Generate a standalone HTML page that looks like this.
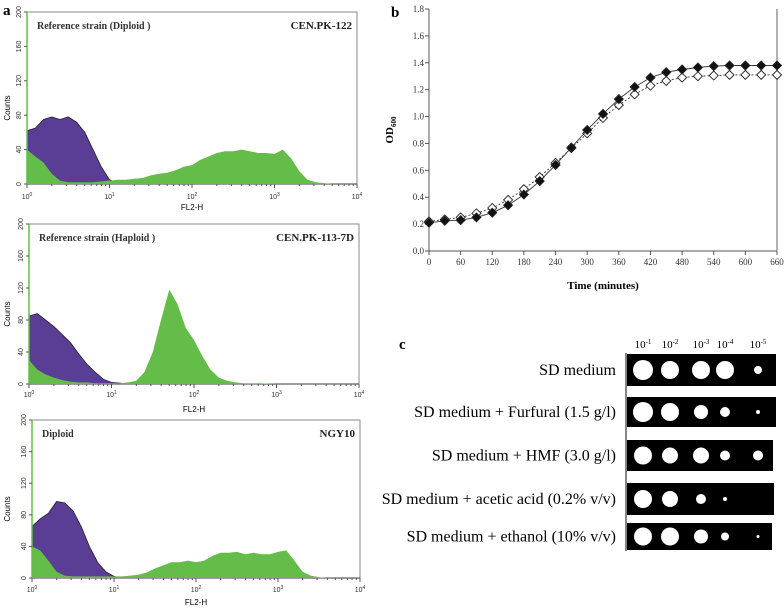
<!DOCTYPE html>
<html><head><meta charset="utf-8"><style>
body{margin:0;background:#fff}
svg{display:block}
text{font-family:"Liberation Serif",serif}
.sans{font-family:"Liberation Sans",sans-serif}
</style></head><body>
<svg id="fig" width="784" height="611" viewBox="0 0 784 611" xmlns="http://www.w3.org/2000/svg"></svg>
<script>
// ---- Panel a data (counts at log10 FL2-H = 0,0.1,...,4.0) ----
const histLogStep = 0.1;
const h1Purple = [62,65,75,78,75,78,72,60,40,20,5,1,0,0,0,0,0,0,0,0,0,0,0,0,0,0,0,0,0,0,0,0,0,0,0,0,0,0,0,0,0];
const h1Green  = [40,32,25,12,4,2,2,2,2,3,4,5,5,6,7,10,12,13,16,20,22,28,32,36,38,38,40,38,36,36,35,40,30,15,5,2,1,0,0,0,0];
const h2Purple = [85,88,80,72,62,52,38,25,15,6,2,1,0,0,0,0,0,0,0,0,0,0,0,0,0,0,0,0,0,0,0,0,0,0,0,0,0,0,0,0,0];
const h2Green  = [30,18,12,8,5,3,2,2,1,1,1,1,2,4,15,40,80,118,100,70,55,35,18,8,4,2,1,1,1,0.5,0,0,0,0,0,0,0,0,0,0,0];
const h3Purple = [65,75,82,97,95,85,65,40,20,8,2,0,0,0,0,0,0,0,0,0,0,0,0,0,0,0,0,0,0,0,0,0,0,0,0,0,0,0,0,0,0];
const h3Green  = [40,35,22,8,3,2,2,2,2,2,2,2,3,4,7,12,16,20,20,22,20,22,28,32,32,33,30,32,30,30,33,35,22,8,3,1,0,0,0,0,0];
const countTicks = [0,40,80,120,160,200];
const decadeTicks = [0,1,2,3,4];
const panelTitlesLeft = ["Reference strain (Diploid )","Reference strain (Haploid )","Diploid"];
const panelTitlesRight = ["CEN.PK-122","CEN.PK-113-7D","NGY10"];
// ---- Panel b data ----
const timePoints = [0,30,60,90,120,150,180,210,240,270,300,330,360,390,420,450,480,510,540,570,600,630,660];
const odFilled = [0.21,0.225,0.23,0.25,0.285,0.34,0.42,0.52,0.64,0.77,0.90,1.02,1.13,1.22,1.29,1.33,1.35,1.365,1.375,1.38,1.38,1.38,1.38];
const odOpen   = [0.22,0.235,0.25,0.28,0.32,0.38,0.46,0.55,0.655,0.765,0.875,0.99,1.085,1.165,1.23,1.265,1.29,1.30,1.305,1.31,1.31,1.31,1.31];
const timeTicks = [0,60,120,180,240,300,360,420,480,540,600,660];
const odTicks = [0,0.2,0.4,0.6,0.8,1.0,1.2,1.4,1.6,1.8];
// ---- Panel c data ----
const conditions = ["SD medium","SD medium + Furfural (1.5 g/l)","SD medium + HMF (3.0 g/l)","SD medium + acetic acid (0.2% v/v)","SD medium + ethanol (10% v/v)"];
const dilutionExp = ["1","2","3","4","5"];
const spotSizes = [[10,9,9,9,4],[10,9,7,5,2],[9,8,8,5,5],[9,8,5,2,0],[9,9,7,4,1.5]];

const NS="http://www.w3.org/2000/svg";
const svg=document.getElementById('fig');
function el(tag,attrs,parent,txt){const e=document.createElementNS(NS,tag);for(const k in attrs)e.setAttribute(k,attrs[k]);if(txt!==undefined)e.textContent=txt;(parent||svg).appendChild(e);return e;}

// ---------- Panel a ----------
const histGeo=[{l:27,r:357,t:12,b:184,tl:197,xl:208},{l:29,r:359,t:224,b:384,tl:395,xl:410},{l:32,r:360,t:420,b:578,tl:590,xl:603}];
const purples=[h1Purple,h2Purple,h3Purple], greens=[h1Green,h2Green,h3Green];
el('text',{x:3,y:15,'font-size':15,'font-weight':'bold'},svg,'a');
histGeo.forEach((g,i)=>{
  const grp=el('g',{});
  
  
  const xs=v=>g.l+(v/4)*(g.r-g.l);
  const ys=c=>g.b-(c/200)*(g.b-g.t);
  el('rect',{x:g.l,y:g.t,width:g.r-g.l,height:g.b-g.t,fill:'none',stroke:'#888','stroke-width':1},grp);
  function area(arr,fill,stroke,name){
    let d='M'+xs(0)+','+g.b;
    arr.forEach((c,k)=>{d+=' L'+xs(k*histLogStep).toFixed(1)+','+ys(c).toFixed(1);});
    d+=' L'+xs(4)+','+g.b+' Z';
    const p=el('path',{d:d,fill:fill,stroke:stroke,'stroke-width':0.8},grp);
    
    
  }
  area(purples[i],'#5a3d94','#222','unstained-histogram');
  area(greens[i],'#63bd48','none','stained-histogram');
  el('line',{x1:g.l,y1:g.t,x2:g.l,y2:g.b,stroke:'#63bd48','stroke-width':1.5},grp);
  countTicks.forEach(c=>{
    el('line',{x1:g.l-3,y1:ys(c),x2:g.l,y2:ys(c),stroke:'#555'},grp);
    const t=el('text',{x:g.l-6,y:ys(c),'font-size':7,'text-anchor':'middle',class:'sans',transform:`rotate(-90 ${g.l-6} ${ys(c)})`,fill:'#333'},grp,String(c));
    
  });
  decadeTicks.forEach(d=>{
    el('line',{x1:xs(d),y1:g.b,x2:xs(d),y2:g.b+4,stroke:'#555'},grp);
    const t=el('text',{x:xs(d),y:g.tl+2,'font-size':7,'text-anchor':'middle',class:'sans',fill:'#333'},grp);
    
    t.appendChild(document.createTextNode('10'));
    el('tspan',{dy:-3,'font-size':5},t,String(d));
    if(d<4)for(let m=2;m<10;m++){const xx=xs(d+Math.log10(m));el('line',{x1:xx,y1:g.b,x2:xx,y2:g.b+2,stroke:'#555'},grp);}
  });
  const xt=el('text',{x:(g.l+g.r)/2,y:g.xl+2,'font-size':8,'text-anchor':'middle',class:'sans'},grp,'FL2-H');
  
  const cy=(g.t+g.b)/2+10;
  const yt=el('text',{x:10,y:cy,'font-size':8,'text-anchor':'middle',class:'sans',transform:`rotate(-90 10 ${cy})`},grp,'Counts');
  
  const tl=el('text',{x:g.l+10,y:g.t+17,'font-size':10,'font-weight':'bold',fill:'#333'},grp,panelTitlesLeft[i]);
  
  const tr=el('text',{x:g.r-5,y:g.t+17,'font-size':11,'font-weight':'bold','text-anchor':'end',fill:'#222'},grp,panelTitlesRight[i]);
  
});

// ---------- Panel b ----------
const B={l:429,r:777,t:9,b:251};
const bx=v=>B.l+(v/660)*(B.r-B.l);
const by=v=>B.b-(v/1.8)*(B.b-B.t);
const gb=el('g',{});


el('text',{x:391,y:17,'font-size':15,'font-weight':'bold'},gb,'b');
el('line',{x1:B.l,y1:B.t,x2:B.l,y2:B.b,stroke:'#555'},gb);
el('line',{x1:B.l,y1:B.b,x2:B.r,y2:B.b,stroke:'#555'},gb);
el('line',{x1:B.r,y1:B.t,x2:B.r,y2:B.b,stroke:'#999','stroke-width':1.5},gb);
odTicks.forEach(v=>{
  el('line',{x1:B.l-4,y1:by(v),x2:B.l,y2:by(v),stroke:'#555'},gb);
  const t=el('text',{x:B.l-5,y:by(v)+3,'font-size':9,'text-anchor':'end',fill:'#333'},gb,v.toFixed(1));
  
});
timeTicks.forEach(v=>{
  el('line',{x1:bx(v),y1:B.b,x2:bx(v),y2:B.b+4,stroke:'#555'},gb);
  const t=el('text',{x:bx(v),y:B.b+14,'font-size':9,'text-anchor':'middle',fill:'#333'},gb,String(v));
  
});
el('text',{x:(B.l+B.r)/2,y:289,'font-size':11,'font-weight':'bold','text-anchor':'middle'},gb,'Time (minutes)');
const odT=el('text',{x:393,y:130,'font-size':11,'font-weight':'bold','text-anchor':'middle',transform:'rotate(-90 393 130)'},gb,'OD');

el('tspan',{dy:3,'font-size':7},odT,'600');
function series(vals,fill,dash,name){
  const pts=timePoints.map((t,k)=>bx(t).toFixed(1)+','+by(vals[k]).toFixed(1)).join(' ');
  const pl=el('polyline',{points:pts,fill:'none',stroke:'#333','stroke-width':0.9,'stroke-dasharray':dash},gb);
  
  
  timePoints.forEach((t,k)=>{
    const x=bx(t),y=by(vals[k]),s=4.5;
    const m=el('polygon',{points:`${x},${y-s} ${x+s},${y} ${x},${y+s} ${x-s},${y}`,fill:fill,stroke:'#222','stroke-width':0.9},gb);
    
    
  });
}
series(odOpen,'#fff','2,2','open-diamond-series');
series(odFilled,'#111','none','filled-diamond-series');

// ---------- Panel c ----------
const gc=el('g',{});


el('text',{x:399,y:349,'font-size':15,'font-weight':'bold'},gc,'c');
const colX=[643,670,701,725,758];
dilutionExp.forEach((e,k)=>{
  const t=el('text',{x:colX[k],y:348,'font-size':11,'text-anchor':'middle'},gc,'10');
  
  el('tspan',{dy:-4,'font-size':7},t,(k===0?'-':'-')+e);
});
const rows=[{t:354,b:386,r:776},{t:397,b:427,r:776},{t:440,b:471,r:773},{t:483,b:515,r:774},{t:523,b:550,r:772}];
el('line',{x1:626,y1:353,x2:626,y2:551,stroke:'#333','stroke-width':1.2},gc);
conditions.forEach((c,i)=>{
  const r=rows[i], cy=(r.t+r.b)/2;
  const lbl=el('text',{x:616,y:cy+5,'font-size':16,'text-anchor':'end'},gc,c);
  
  const box=el('rect',{x:627,y:r.t,width:r.r-627,height:r.b-r.t,fill:'#000'},gc);
  
  spotSizes[i].forEach((s,k)=>{
    if(s<=0)return;
    const sp=el('circle',{cx:colX[k],cy:cy,r:s,fill:'#fff'},gc);
    
  });
});
</script>
</body></html>
